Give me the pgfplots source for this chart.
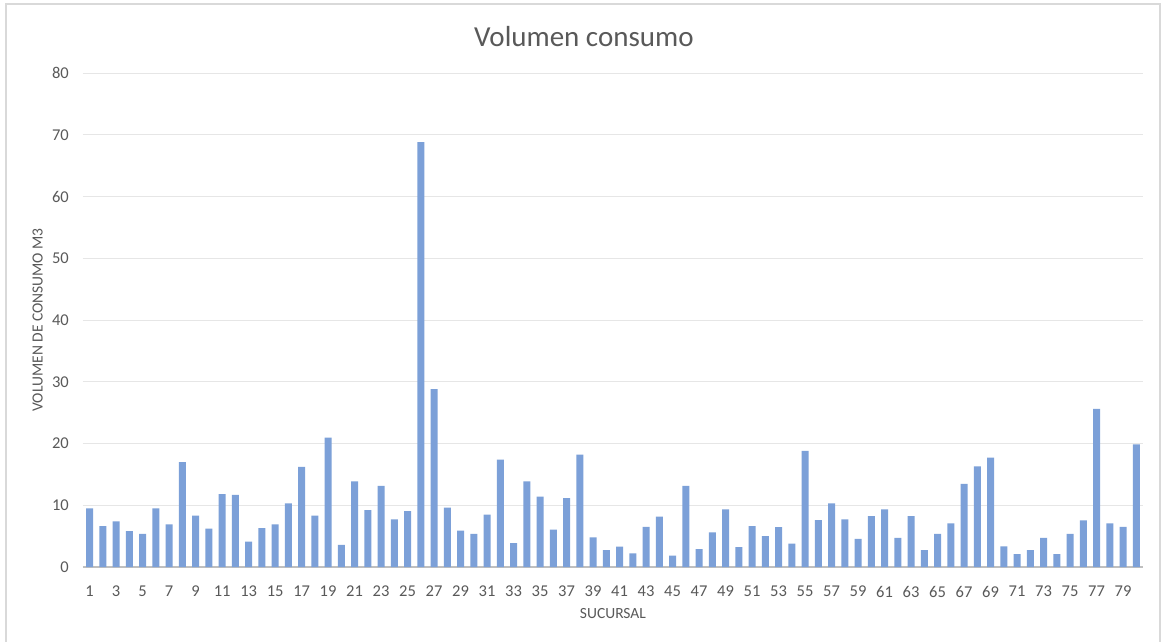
\documentclass[border=0pt]{standalone}
\usepackage{fontspec}
\setmainfont{Carlito}
\usepackage{pgfplots}
\pgfplotsset{compat=1.18}

\definecolor{barblue}{RGB}{124,160,216}
\definecolor{txtgray}{RGB}{89,89,89}
\definecolor{gridgray}{RGB}{230,230,230}
\definecolor{axgray}{RGB}{191,191,191}
\definecolor{framegray}{RGB}{217,217,217}

% Volumen de consumo (m3) por sucursal
\pgfplotstableread{
suc vol
1 9.5
2 6.6
3 7.4
4 5.8
5 5.35
6 9.5
7 6.9
8 17.0
9 8.3
10 6.2
11 11.8
12 11.7
13 4.1
14 6.3
15 6.9
16 10.3
17 16.2
18 8.3
19 20.95
20 3.6
21 13.85
22 9.2
23 13.15
24 7.7
25 9.05
26 68.8
27 28.8
28 9.6
29 5.9
30 5.35
31 8.5
32 17.4
33 3.85
34 13.85
35 11.4
36 6.05
37 11.15
38 18.2
39 4.8
40 2.75
41 3.3
42 2.2
43 6.5
44 8.15
45 1.85
46 13.15
47 2.9
48 5.6
49 9.35
50 3.2
51 6.6
52 5.0
53 6.45
54 3.8
55 18.8
56 7.6
57 10.3
58 7.7
59 4.55
60 8.25
61 9.35
62 4.7
63 8.25
64 2.75
65 5.35
66 7.05
67 13.45
68 16.3
69 17.7
70 3.35
71 2.1
72 2.75
73 4.7
74 2.1
75 5.35
76 7.55
77 25.6
78 7.05
79 6.5
80 19.85
}\datatable

\begin{document}
\begin{tikzpicture}
\path[use as bounding box, fill=white] (0pt,0pt) rectangle (1163pt,641pt);
\draw[framegray, line width=1.3pt] (6pt,-3pt) -- (6pt,637pt) -- (1160pt,637pt) -- (1160pt,-3pt);
\begin{axis}[
  at={(83pt,74pt)}, anchor=south west,
  scale only axis, width=1060pt, height=494pt,
  xmin=0.5, xmax=80.5, ymin=0, ymax=80,
  ybar, bar width=6.9pt,
  xtick={1,3,...,79}, ytick={0,10,...,80},
  ymajorgrids, grid style={gridgray, line width=1pt},
  axis x line*=bottom, axis y line*=left,
  x axis line style={axgray, line width=2pt},
  y axis line style={draw=none},
  tick style={draw=none}, major tick length=0pt,
  /pgf/number format/assume math mode=true,
  ticklabel style={font=\fontsize{16.5}{18}\selectfont, text=txtgray},
  yticklabel style={inner sep=0pt, xshift=-14pt},
  xticklabel style={inner sep=0pt, anchor=north, yshift=-19pt},
  title={Volumen consumo},
  title style={at={(axis description cs:0.4726,1.0405)}, anchor=base,
    font=\fontsize{29}{32}\selectfont, text=txtgray, inner sep=0pt},
  xlabel={SUCURSAL},
  xlabel style={at={(axis description cs:0.5,-0.083)}, anchor=north,
    font=\fontsize{15.5}{17}\selectfont, text=txtgray, inner sep=0pt},
  ylabel={VOLUMEN DE CONSUMO M3},
  ylabel style={at={(axis description cs:-0.0377,0.5)}, anchor=south,
    font=\fontsize{15.5}{17}\selectfont, text=txtgray, inner sep=0pt},
  clip=false,
]
\addplot[draw=none, fill=barblue] table[x=suc, y=vol] {\datatable};
\end{axis}
\end{tikzpicture}
\end{document}
